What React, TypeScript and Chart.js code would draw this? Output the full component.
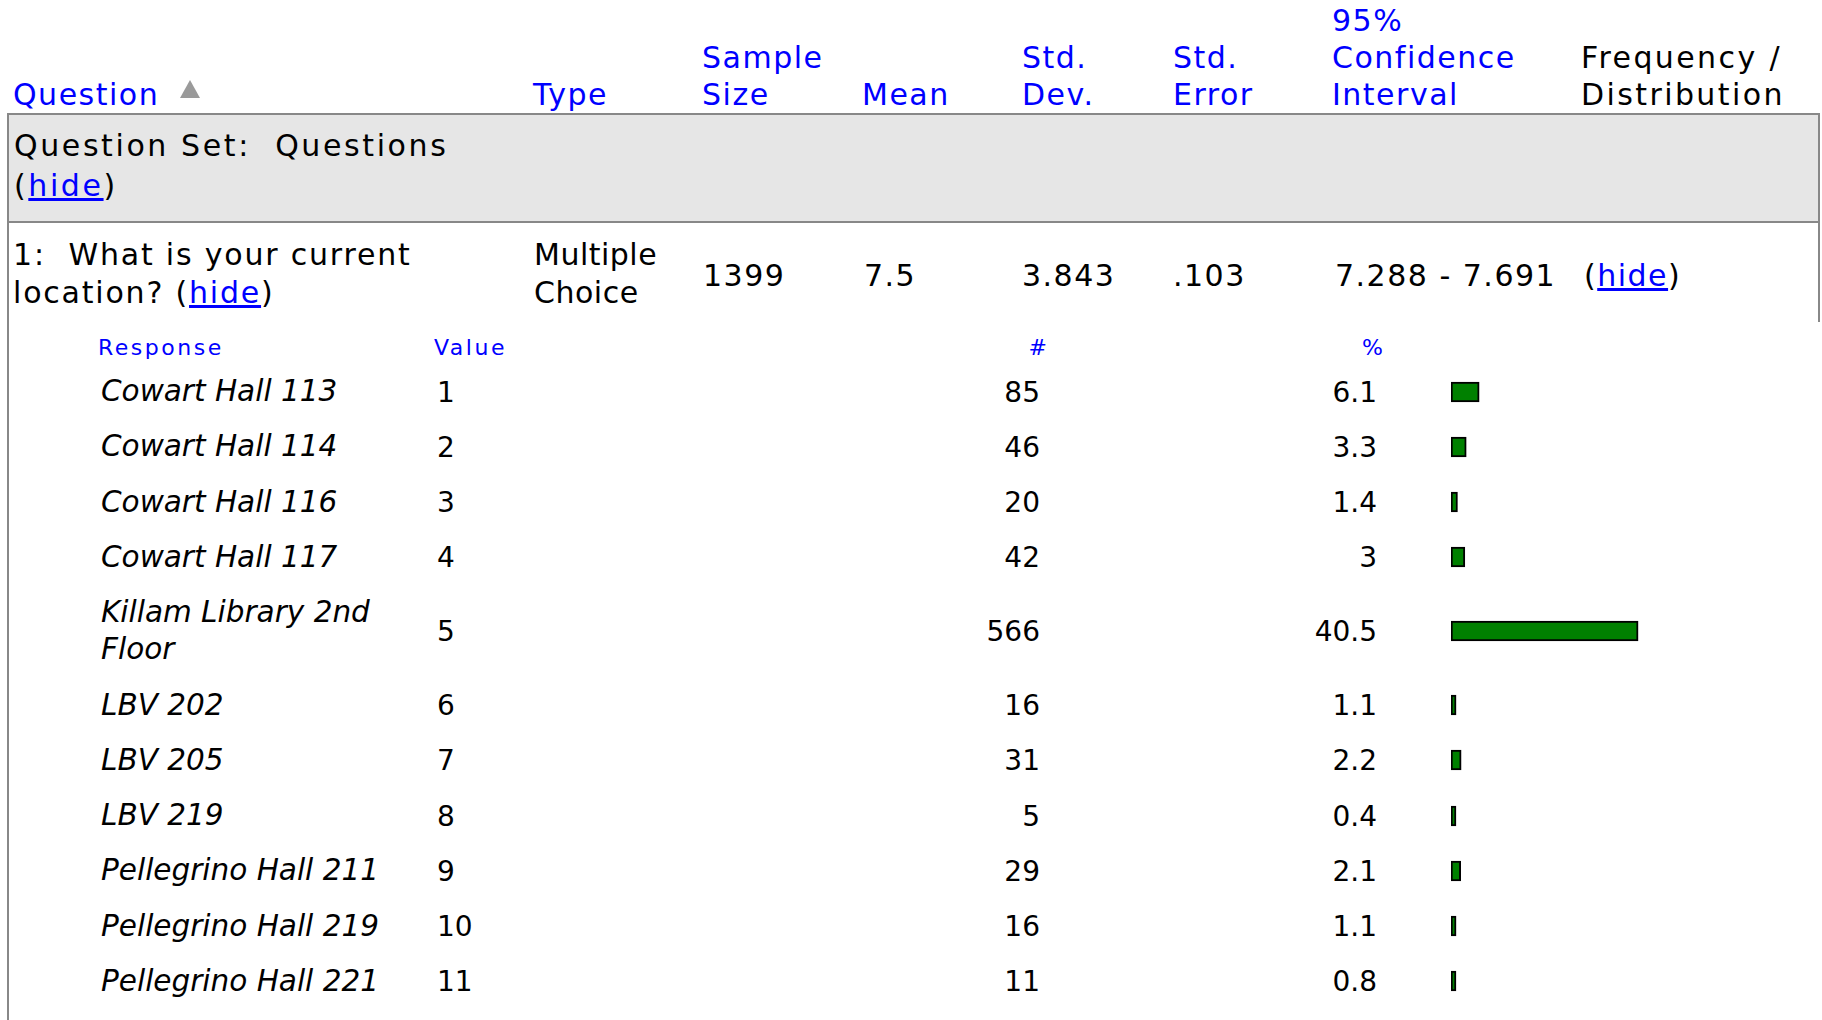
import React, { useEffect, useRef } from "react";
import { Chart, registerables } from "chart.js";

Chart.register(...registerables);

// ---- data ----
const headerLabels = ["Question", "Type", "Sample\nSize", "Mean", "Std.\nDev.", "Std.\nError", "95%\nConfidence\nInterval", "Frequency /\nDistribution"];
const questionSetTitle = "Question Set:\u00a0\u00a0Questions";
const questionText = "1:\u00a0\u00a0What is your current";
const questionText2 = "location?";
const questionType = "Multiple\nChoice";
const summaryStats = ["1399", "7.5", "3.843", ".103", "7.288 - 7.691"];
const subHeaders = ["Response", "Value", "#", "%"];
const responses = [
  "Cowart Hall 113",
  "Cowart Hall 114",
  "Cowart Hall 116",
  "Cowart Hall 117",
  "Killam Library 2nd Floor",
  "LBV 202",
  "LBV 205",
  "LBV 219",
  "Pellegrino Hall 211",
  "Pellegrino Hall 219",
  "Pellegrino Hall 221",
];
const responseValues = [1, 2, 3, 4, 5, 6, 7, 8, 9, 10, 11];
const counts = [85, 46, 20, 42, 566, 16, 31, 5, 29, 16, 11];
const percents = [6.1, 3.3, 1.4, 3, 40.5, 1.1, 2.2, 0.4, 2.1, 1.1, 0.8];

// ---- styles ----
const BLUE = "#0000ff";
const FONT = "'DejaVu Sans', sans-serif";
const BORDER = "#888888";
const headerLefts = [13, 533, 702, 862, 1022, 1173, 1332, 1581];
const headerSpacing = ["1.5px", "1.5px", "1.5px", "1.5px", "1.5px", "1.5px", "1.5px", "2.4px"];
const statLefts = [703, 864, 1022, 1173, 1335];

function MiniBar({ value }: { value: number }) {
  const ref = useRef<HTMLCanvasElement | null>(null);
  useEffect(() => {
    if (!ref.current) return;
    const chart = new Chart(ref.current, {
      type: "bar",
      data: {
        labels: [""],
        datasets: [
          {
            data: [value],
            backgroundColor: "#008000",
            borderColor: "#000000",
            borderWidth: 2,
            borderSkipped: false,
            barThickness: 20,
            minBarLength: 5,
          } as any,
        ],
      },
      options: {
        indexAxis: "y",
        responsive: false,
        maintainAspectRatio: false,
        animation: false,
        events: [],
        layout: { padding: 0 },
        plugins: { legend: { display: false }, tooltip: { enabled: false } },
        scales: {
          x: { type: "linear", min: 0, max: 100, display: false },
          y: { display: false },
        },
      },
    });
    return () => chart.destroy();
  }, [value]);
  return <canvas ref={ref} width={462} height={30} style={{ display: "block", width: 462, height: 30 }} />;
}

function Lines({ text }: { text: string }) {
  const parts = text.split("\n");
  return (
    <>
      {parts.map((p, i) => (
        <React.Fragment key={i}>
          {p}
          {i < parts.length - 1 && <br />}
        </React.Fragment>
      ))}
    </>
  );
}

export default function App() {
  const mainText: React.CSSProperties = {
    position: "absolute",
    fontFamily: FONT,
    fontSize: 30,
    letterSpacing: "1.5px",
    color: "#000",
    whiteSpace: "nowrap",
  };
  const link: React.CSSProperties = { color: BLUE, textDecoration: "underline" };
  const subHead: React.CSSProperties = {
    position: "absolute",
    top: 333,
    fontSize: 22,
    lineHeight: "30px",
    letterSpacing: "2.5px",
    color: BLUE,
    fontFamily: FONT,
  };
  const cell: React.CSSProperties = {
    position: "absolute",
    top: "50%",
    transform: "translateY(-50%)",
    fontSize: 28,
    lineHeight: "37px",
    color: "#000",
    fontFamily: FONT,
  };

  return (
    <div
      style={{
        position: "absolute",
        left: 0,
        top: 0,
        width: 1822,
        height: 1020,
        overflow: "hidden",
        background: "#fff",
        fontFamily: FONT,
      }}
    >
      {/* header area */}
      <div style={{ position: "absolute", left: 0, top: 0, width: 1822, height: 113 }}>
        {headerLabels.map((h, i) => (
          <div
            key={i}
            style={{
              ...mainText,
              left: headerLefts[i],
              bottom: 0,
              lineHeight: "37px",
              letterSpacing: headerSpacing[i],
              color: i === headerLabels.length - 1 ? "#000" : BLUE,
            }}
          >
            <Lines text={h} />
          </div>
        ))}
        <div
          style={{
            position: "absolute",
            left: 180,
            top: 80,
            width: 0,
            height: 0,
            borderLeft: "10px solid transparent",
            borderRight: "10px solid transparent",
            borderBottom: "18px solid #9a9a9a",
          }}
        />
      </div>

      {/* borders */}
      <div style={{ position: "absolute", left: 7, top: 113, width: 1813, height: 2, background: BORDER }} />
      <div style={{ position: "absolute", left: 9, top: 115, width: 1809, height: 106, background: "#e6e6e6" }} />
      <div style={{ position: "absolute", left: 7, top: 221, width: 1813, height: 2, background: BORDER }} />
      <div style={{ position: "absolute", left: 7, top: 113, width: 2, height: 907, background: BORDER }} />
      <div style={{ position: "absolute", left: 1818, top: 113, width: 2, height: 209, background: BORDER }} />

      {/* question set row */}
      <div style={{ ...mainText, left: 14, top: 126, lineHeight: "40px", letterSpacing: "2.6px" }}>
        {questionSetTitle}
        <br />(<span style={link}>hide</span>)
      </div>

      {/* question row */}
      <div style={{ ...mainText, left: 13, top: 236, lineHeight: "38px", letterSpacing: "1.8px" }}>
        {questionText}
        <br />
        {questionText2} (<span style={link}>hide</span>)
      </div>
      <div style={{ ...mainText, left: 534, top: 236, lineHeight: "38px", letterSpacing: "0.5px" }}>
        <Lines text={questionType} />
      </div>
      {summaryStats.map((s, i) => (
        <div key={i} style={{ ...mainText, left: statLefts[i], top: 257, lineHeight: "38px" }}>
          {s}
        </div>
      ))}
      <div style={{ ...mainText, left: 1584, top: 257, lineHeight: "38px" }}>
        (<span style={link}>hide</span>)
      </div>

      {/* sub-table header */}
      <div style={{ ...subHead, left: 98 }}>{subHeaders[0]}</div>
      <div style={{ ...subHead, left: 434 }}>{subHeaders[1]}</div>
      <div style={{ ...subHead, left: 900, width: 147, textAlign: "right", letterSpacing: 0 }}>{subHeaders[2]}</div>
      <div style={{ ...subHead, left: 1200, width: 183, textAlign: "right", letterSpacing: 0 }}>{subHeaders[3]}</div>

      {/* sub-table rows */}
      <div style={{ position: "absolute", left: 0, top: 364, width: 1822, display: "flex", flexDirection: "column" }}>
        {responses.map((r, i) => (
          <div key={i} style={{ position: "relative", padding: "9.15px 0", width: 1822 }}>
            <div
              style={{
                marginLeft: 101,
                width: 320,
                fontSize: 29.5,
                lineHeight: "37px",
                fontStyle: "italic",
                color: "#000",
                fontFamily: FONT,
              }}
            >
              {r}
            </div>
            <div style={{ ...cell, left: 437 }}>{responseValues[i]}</div>
            <div style={{ ...cell, left: 900, width: 140, textAlign: "right" }}>{counts[i]}</div>
            <div style={{ ...cell, left: 1200, width: 177, textAlign: "right" }}>{percents[i]}</div>
            <div style={{ position: "absolute", left: 1451, width: 367, height: 30, top: "50%", marginTop: -15, overflow: "hidden" }}>
              <MiniBar value={percents[i]} />
            </div>
          </div>
        ))}
      </div>
    </div>
  );
}
